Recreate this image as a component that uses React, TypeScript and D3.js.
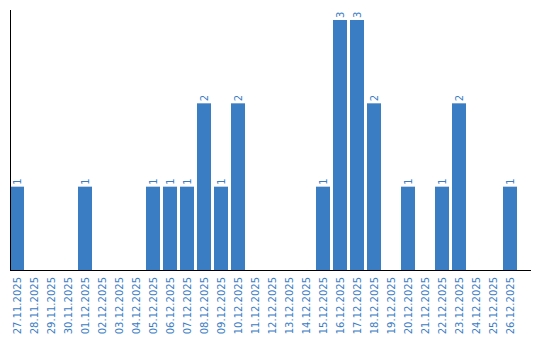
import React from "react";
import * as d3 from "d3";

const dates = [
  "27.11.2025", "28.11.2025", "29.11.2025", "30.11.2025", "01.12.2025",
  "02.12.2025", "03.12.2025", "04.12.2025", "05.12.2025", "06.12.2025",
  "07.12.2025", "08.12.2025", "09.12.2025", "10.12.2025", "11.12.2025",
  "12.12.2025", "13.12.2025", "14.12.2025", "15.12.2025", "16.12.2025",
  "17.12.2025", "18.12.2025", "19.12.2025", "20.12.2025", "21.12.2025",
  "22.12.2025", "23.12.2025", "24.12.2025", "25.12.2025", "26.12.2025",
];
const counts = [
  1, 0, 0, 0, 1,
  0, 0, 0, 1, 1,
  1, 2, 1, 2, 0,
  0, 0, 0, 1, 3,
  3, 2, 0, 1, 0,
  1, 2, 0, 0, 1,
];

const W = 540;
const H = 340;
const BAR = "#3b7dc3";
const TXT = "#3b7dc3";
const FONT = "DejaVu Sans, Verdana, sans-serif";

export default function App() {
  const x = d3.scaleBand<string>().domain(dates).range([10, 517]).paddingInner(3 / 17).paddingOuter(0);
  const y = d3.scaleLinear().domain([0, d3.max(counts) as number]).range([270, 20]);
  return (
    <svg width={W} height={H} style={{ position: "absolute", left: 0, top: 0, display: "block" }}>
      <rect width={W} height={H} fill="#fff" />
      {dates.map((d, i) =>
        counts[i] > 0 ? (
          <g key={d}>
            <rect x={x(d)} y={y(counts[i])} width={x.bandwidth()} height={270 - y(counts[i])} fill={BAR} />
            <text
              transform={`translate(${(x(d) as number) + x.bandwidth() / 2 + 3.5},${y(counts[i]) - 2}) rotate(-90)`}
              fontFamily={FONT}
              fontSize={10}
              fill={TXT}
            >
              {counts[i]}
            </text>
          </g>
        ) : null
      )}
      {dates.map((d) => (
        <text
          key={"t" + d}
          transform={`translate(${(x(d) as number) + x.bandwidth() / 2 + 3.5},277) rotate(-90)`}
          textAnchor="end"
          fontFamily={FONT}
          fontSize={10}
          fill={TXT}
        >
          {d}
        </text>
      ))}
      <line x1={10.5} x2={10.5} y1={10} y2={270} stroke="#000" strokeWidth={1} />
      <line x1={10} x2={531} y1={270.5} y2={270.5} stroke="#000" strokeWidth={1} />
    </svg>
  );
}
